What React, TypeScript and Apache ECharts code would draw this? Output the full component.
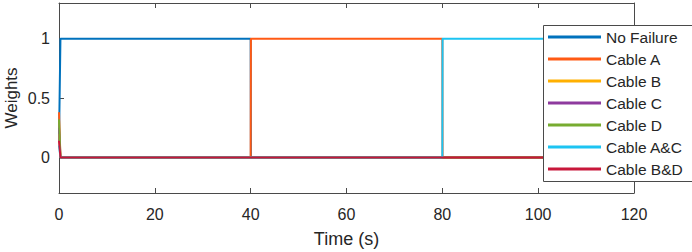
import React, { useEffect, useRef } from "react";
import * as echarts from "echarts";

const seriesNames = ["No Failure", "Cable A", "Cable B", "Cable C", "Cable D", "Cable A&C", "Cable B&D"];
const colors = ["#0072BD", "#FF5A14", "#FFB000", "#8E3A9E", "#77AC30", "#1CC4F2", "#C8173A"];
const times = [0, 0.3, 40, 40.05, 80, 80.05, 120];
const noFailure = [0.14, 1, 1, 0, 0, 0, 0];
const cableA = [0.38, 0, 0, 1, 1, 0, 0];
const cableB = [0.2, 0, 0, 0, 0, 0, 0];
const cableC = [0.25, 0, 0, 0, 0, 0, 0];
const cableD = [0.32, 0, 0, 0, 0, 0, 0];
const cableAC = [0.1, 0, 0, 0, 0, 1, 1];
const cableBD = [0.14, 0, 0, 0, 0, 0, 0];
const allValues = [noFailure, cableA, cableB, cableC, cableD, cableAC, cableBD];
const xTicks = [0, 120, 20];
const yTickValues = [0, 0.5, 1];

export default function App() {
  const ref = useRef<HTMLDivElement>(null);
  useEffect(() => {
    const chart = echarts.init(ref.current!, null, { renderer: "svg" });
    const axisColor = "#262626";
    const lineColor = "#4a4a4a";
    const font = "Liberation Sans, Arial, sans-serif";
    chart.setOption({
      animation: false,
      textStyle: { fontFamily: font },
      grid: { left: 59, right: 58, top: 3, bottom: 59, outerBoundsMode: "none", containLabel: false },
      xAxis: [
        {
          type: "value", min: xTicks[0], max: xTicks[1], interval: xTicks[2],
          name: "Time (s)", nameLocation: "middle", nameGap: 37, nameMoveOverlap: false,
          nameTextStyle: { fontSize: 18, color: axisColor, fontFamily: font },
          axisLine: { onZero: false, lineStyle: { color: lineColor, width: 1 } },
          axisTick: { inside: true, length: 5, lineStyle: { color: lineColor } },
          axisLabel: { fontSize: 16, color: axisColor, margin: 13, fontFamily: font },
          splitLine: { show: false },
        },
        {
          type: "value", position: "top", min: xTicks[0], max: xTicks[1], interval: xTicks[2],
          axisLine: { show: true, onZero: false, lineStyle: { color: lineColor, width: 1 } },
          axisTick: { inside: true, length: 5, lineStyle: { color: lineColor } },
          axisLabel: { show: false },
          splitLine: { show: false },
        },
      ],
      yAxis: [
        {
          type: "value", min: -0.3, max: 1.3,
          name: "Weights", nameLocation: "middle", nameGap: 39, nameMoveOverlap: false,
          nameTextStyle: { fontSize: 17, color: axisColor, fontFamily: font },
          axisLine: { show: true, onZero: false, lineStyle: { color: lineColor, width: 1 } },
          axisTick: { inside: true, length: 5, customValues: yTickValues, lineStyle: { color: lineColor } },
          axisLabel: { fontSize: 16, color: axisColor, margin: 9, customValues: yTickValues, fontFamily: font },
          splitLine: { show: false },
        },
        {
          type: "value", position: "right", min: -0.3, max: 1.3,
          axisLine: { show: true, onZero: false, lineStyle: { color: lineColor, width: 1 } },
          axisTick: { inside: true, length: 5, customValues: yTickValues, lineStyle: { color: lineColor } },
          axisLabel: { show: false },
          splitLine: { show: false },
        },
      ],
      legend: {
        orient: "vertical", left: 548, top: 29, z: 20, padding: 0,
        icon: "rect", itemWidth: 53, itemHeight: 3, itemGap: 6,
        textStyle: { fontSize: 15.5, color: axisColor, lineHeight: 16, fontFamily: font },
        data: seriesNames,
      },
      graphic: [
        {
          type: "rect", z: 15, zlevel: 0,
          shape: { x: 543.5, y: 25.5, width: 160, height: 156 },
          style: { fill: "#fff", stroke: lineColor, lineWidth: 1 },
        },
      ],
      series: seriesNames.map((name, i) => ({
        name, type: "line", showSymbol: false, symbol: "none",
        data: times.map((t, j) => [t, allValues[i][j]]),
        lineStyle: { color: colors[i], width: 2 },
        itemStyle: { color: colors[i] },
      })),
    });
    return () => chart.dispose();
  }, []);
  return <div ref={ref} style={{ width: 692, height: 252, position: "absolute", left: 0, top: 0 }} />;
}
